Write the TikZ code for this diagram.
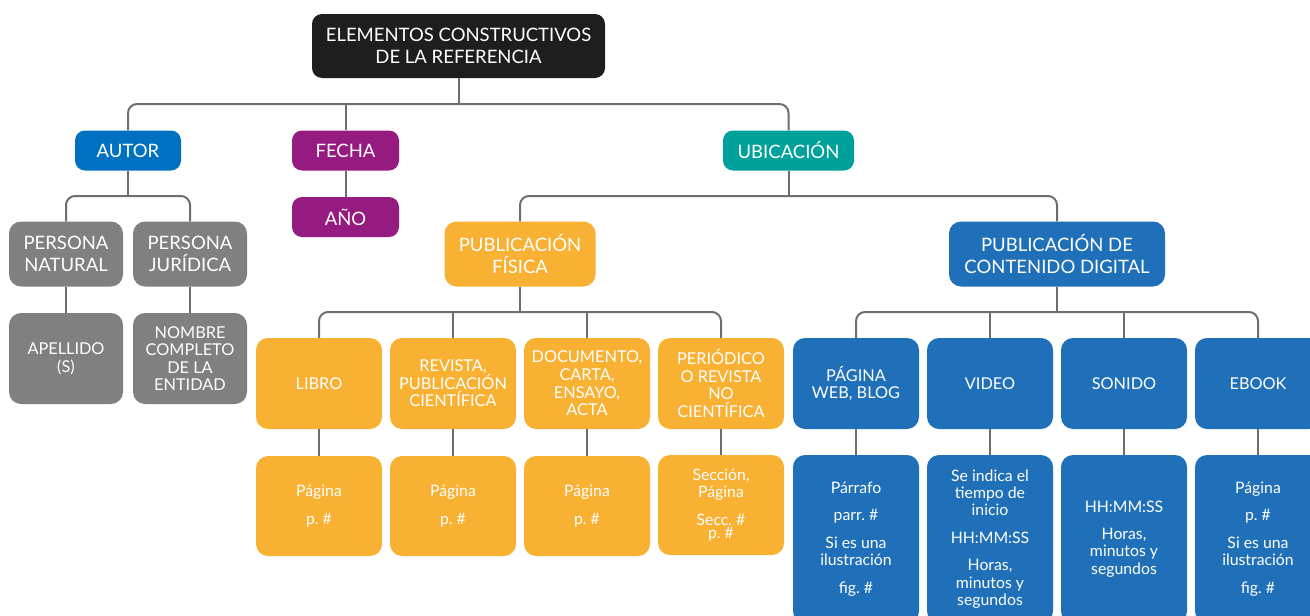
\documentclass[tikz,border=0pt]{standalone}
\usepackage{fontspec}
\setmainfont{Lato}
\definecolor{rootc}{HTML}{1E1E1E}
\definecolor{autorc}{HTML}{0070C0}
\definecolor{purp}{HTML}{951B81}
\definecolor{tealc}{HTML}{00A19A}
\definecolor{grayb}{HTML}{808080}
\definecolor{orangeb}{HTML}{F8B133}
\definecolor{blueb}{HTML}{1F70B9}
\definecolor{linec}{HTML}{6E6E6E}
\frenchspacing
\begin{document}
\begin{tikzpicture}[x=1pt,y=-1pt,
  base/.style={rectangle, rounded corners=10pt, text=white, align=center, inner sep=0pt},
  big/.style={base, font=\fontsize{18.5}{21.5}\selectfont},
  head/.style={big, minimum height=40pt},
  sub/.style={big, rounded corners=12pt, minimum height=65pt},
  mid/.style={base, rounded corners=12pt, font=\fontsize{16.3}{17.6}\selectfont, minimum width=126pt, minimum height=91pt},
  low/.style={base, rounded corners=12pt, font=\fontsize{15.8}{17.4}\selectfont, minimum width=126pt},
  conn/.style={draw=linec, line width=2pt, rounded corners=9pt},
]
\useasboundingbox (0,0) rectangle (1310,616);
\clip (0,0) rectangle (1310,616);

% root
\node[big, fill=rootc, minimum width=293pt, minimum height=64pt] (root) at (458.5,46)
  {ELEMENTOS CONSTRUCTIVOS\\DE LA REFERENCIA};

% first level
\node[head, fill=autorc, minimum width=106pt] (autor) at (128,150.5) {AUTOR};
\node[head, fill=purp, minimum width=107pt] (fecha) at (345.5,150.5) {FECHA};
\node[head, fill=purp, minimum width=107pt] (anio) at (345.5,217) {AÑO};
\node[head, fill=tealc, minimum width=131pt] (ubic) at (788.5,150.5) {UBICACIÓN};

% author branch
\node[sub, fill=grayb, minimum width=114pt] (pnat) at (66,254) {PERSONA\\NATURAL};
\node[sub, fill=grayb, minimum width=114pt] (pjur) at (190,254) {PERSONA\\JURÍDICA};
\node[mid, fill=grayb, minimum width=114pt] (apell) at (66,358.5) {APELLIDO\\(S)};
\node[mid, fill=grayb, minimum width=114pt] (nombre) at (190,358.5) {NOMBRE\\COMPLETO\\DE LA\\ENTIDAD};

% location branch
\node[sub, fill=orangeb, minimum width=151pt] (pfis) at (520,254) {PUBLICACIÓN\\FÍSICA};
\node[sub, fill=blueb, minimum width=216pt] (pdig) at (1057,254) {PUBLICACIÓN DE\\CONTENIDO DIGITAL};

% printed publications
\node[mid, fill=orangeb] (libro) at (319,383.5) {LIBRO};
\node[mid, fill=orangeb] (revista) at (453,383.5) {REVISTA,\\PUBLICACIÓN\\CIENTÍFICA};
\node[mid, fill=orangeb] (docu) at (587,383.5) {DOCUMENTO,\\CARTA,\\ENSAYO,\\ACTA};
\node[mid, fill=orangeb] (peri) at (721,383.5) {PERIÓDICO\\O REVISTA\\NO\\CIENTÍFICA};

\node[low, fill=orangeb, minimum height=100pt] (libroB) at (319,506) {Página\\[10pt]p. \#};
\node[low, fill=orangeb, minimum height=100pt] (revistaB) at (453,506) {Página\\[10pt]p. \#};
\node[low, fill=orangeb, minimum height=100pt] (docuB) at (587,506) {Página\\[10pt]p. \#};
\node[low, fill=orangeb, minimum height=100pt] (periB) at (721,505) {Sección,\\Página\\[10pt]Secc. \#\\[-4pt]p. \#};

% digital content
\node[mid, fill=blueb] (web) at (856,383.5) {PÁGINA\\WEB, BLOG};
\node[mid, fill=blueb] (video) at (990,383.5) {VIDEO};
\node[mid, fill=blueb] (sonido) at (1124,383.5) {SONIDO};
\node[mid, fill=blueb] (ebook) at (1258,383.5) {EBOOK};

\node[low, fill=blueb, minimum height=168pt] (webB) at (856,539)
  {Párrafo\\[10pt]parr. \#\\[10pt]Si es una\\ilustración\\[10pt]fig. \#};
\node[low, fill=blueb, minimum height=168pt] (videoB) at (990,539)
  {Se indica el\\tiempo de\\inicio\\[10pt]HH:MM:SS\\[10pt]Horas,\\minutos y\\segundos};
\node[low, fill=blueb, minimum height=168pt] (sonidoB) at (1124,539)
  {HH:MM:SS\\[10pt]Horas,\\minutos y\\segundos};
\node[low, fill=blueb, minimum height=168pt] (ebookB) at (1258,539)
  {Página\\[10pt]p. \#\\[10pt]Si es una\\ilustración\\[10pt]fig. \#};

% connectors
\coordinate (b1) at (458.5,104);
\coordinate (b2) at (128,196);
\coordinate (b3) at (788.5,196);
\coordinate (b4) at (520,312);
\coordinate (b5) at (1057,312);

\draw[conn] (root.south) -- (b1);
\draw[conn] (autor.north) -- (autor.north |- b1) -- (ubic.north |- b1) -- (ubic.north);
\draw[conn] (fecha.north) -- (fecha.north |- b1);
\draw[conn] (fecha.south) -- (anio.north);

\draw[conn] (autor.south) -- (b2);
\draw[conn] (pnat.north) -- (pnat.north |- b2) -- (pjur.north |- b2) -- (pjur.north);
\draw[conn] (pnat.south) -- (apell.north);
\draw[conn] (pjur.south) -- (nombre.north);

\draw[conn] (ubic.south) -- (b3);
\draw[conn] (pfis.north) -- (pfis.north |- b3) -- (pdig.north |- b3) -- (pdig.north);

\draw[conn] (pfis.south) -- (b4);
\draw[conn] (libro.north) -- (libro.north |- b4) -- (peri.north |- b4) -- (peri.north);
\draw[conn] (revista.north) -- (revista.north |- b4);
\draw[conn] (docu.north) -- (docu.north |- b4);

\draw[conn] (pdig.south) -- (b5);
\draw[conn] (web.north) -- (web.north |- b5) -- (ebook.north |- b5) -- (ebook.north);
\draw[conn] (video.north) -- (video.north |- b5);
\draw[conn] (sonido.north) -- (sonido.north |- b5);

\foreach \a/\b in {libro/libroB, revista/revistaB, docu/docuB, peri/periB,
                   web/webB, video/videoB, sonido/sonidoB, ebook/ebookB}
  \draw[conn] (\a.south) -- (\b.north);
\end{tikzpicture}
\end{document}
